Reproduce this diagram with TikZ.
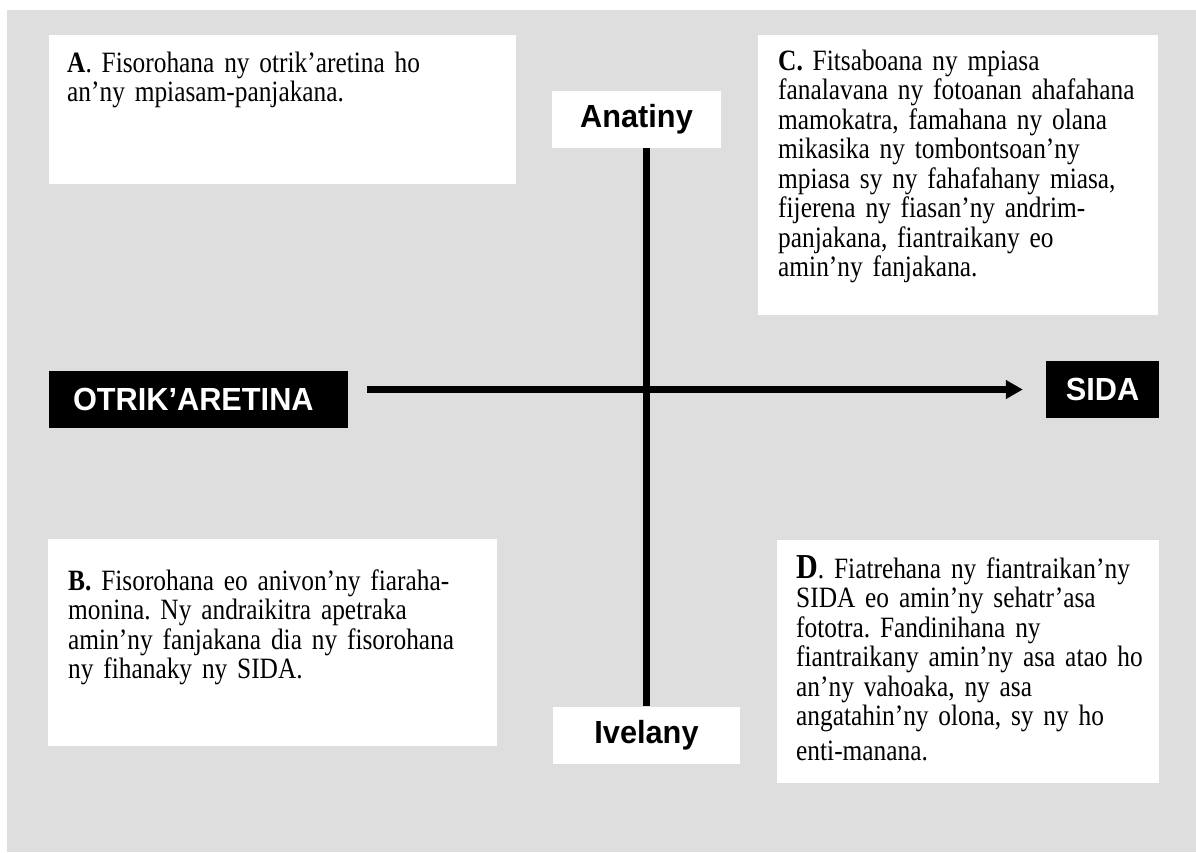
\documentclass[tikz,border=0pt]{standalone}
\usepackage{fontspec}
\setmainfont[FakeStretch=0.86]{Liberation Serif}
\newfontfamily\labelfont[FakeStretch=0.96]{Liberation Sans}
\usetikzlibrary{arrows.meta}
\definecolor{bggray}{RGB}{222,222,222}
\frenchspacing
\lineskiplimit=-20pt
\newcommand{\ml}[1]{\mbox{#1}}
\begin{document}
\begin{tikzpicture}[x=1pt,y=-1pt,
  txtbox/.style={fill=white, anchor=base west, align=left, inner ysep=0pt,
    font=\fontsize{29.5}{29.5}\selectfont},
  lbl/.style={fill=white, inner sep=0pt, minimum height=57pt,
    font=\labelfont\bfseries\fontsize{32}{34}\selectfont},
  blk/.style={fill=black, text=white, inner sep=0pt, minimum height=57pt,
    font=\labelfont\bfseries\fontsize{32}{34}\selectfont},
  axis/.style={line width=6.5pt},
]
\useasboundingbox (0,0) rectangle (1196,852);
\fill[bggray] (7,10) rectangle (1196,852);

\node[txtbox, inner xsep=18pt, text width=431pt, text height=37pt, text depth=112pt] (boxA) at (49,72)
 {\ml{\textbf{A}. Fisorohana ny otrik’aretina ho}\\\ml{an’ny mpiasam-panjakana.}};

\node[txtbox, inner xsep=20pt, text width=360pt, text height=35pt, text depth=245pt] (boxC) at (758,70)
 {\ml{\textbf{C.} Fitsaboana ny mpiasa}\\\ml{fanalavana ny fotoanan ahafahana}\\\ml{mamokatra, famahana ny olana}\\\ml{mikasika ny tombontsoan’ny}\\\ml{mpiasa sy ny fahafahany miasa,}\\\ml{fijerena ny fiasan’ny andrim-}\\\ml{panjakana, fiantraikany eo}\\\ml{amin’ny fanjakana.}};

\node[txtbox, inner xsep=20pt, text width=409pt, text height=51pt, text depth=156pt] (boxB) at (48,590)
 {\ml{\textbf{B.} Fisorohana eo anivon’ny fiaraha-}\\\ml{monina. Ny andraikitra apetraka}\\\ml{amin’ny fanjakana dia ny fisorohana}\\\ml{ny fihanaky ny SIDA.}};

\node[txtbox, inner xsep=19pt, text width=344pt, text height=38pt, text depth=205pt] (boxD) at (777,578)
 {\ml{{\fontsize{35}{29.5}\selectfont\textbf{D}}. Fiatrehana ny fiantraikan’ny}\\\ml{SIDA eo amin’ny sehatr’asa}\\\ml{fototra. Fandinihana ny}\\\ml{fiantraikany amin’ny asa atao ho}\\\ml{an’ny vahoaka, ny asa}\\\ml{angatahin’ny olona, sy ny ho}\\[5pt]\ml{enti-manana.}};

\node[lbl, minimum width=169pt] (anatiny) at (636.5,119.5) {Anatiny};
\node[lbl, minimum width=187pt] (ivelany) at (646.5,735) {Ivelany};
\node[blk, minimum width=299pt, text width=251pt, inner xsep=24pt, align=left] (otrik) at (198.5,399.5) {OTRIK’ARETINA};
\node[blk, minimum width=113pt] (sida) at (1102.5,389.5) {SIDA};

\draw[axis] (ivelany.north |- anatiny.south) -- (ivelany.north);
\draw[axis, -{Triangle[length=17pt,width=18pt]}, shorten <=19pt, shorten >=23pt]
  (otrik.east |- sida.west) -- (sida.west);
\end{tikzpicture}
\end{document}
